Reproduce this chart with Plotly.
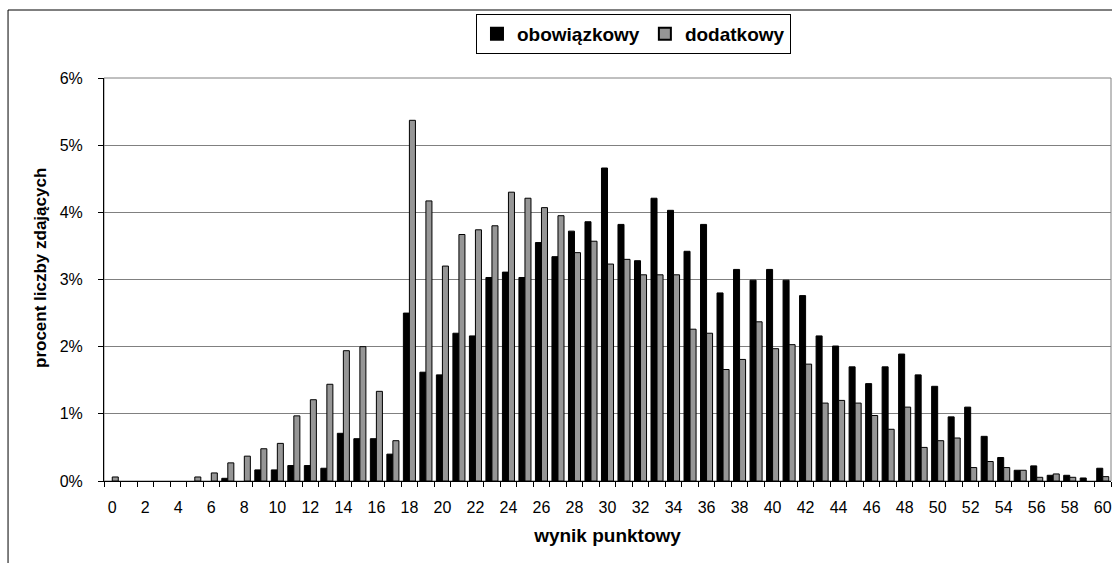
import plotly.graph_objects as go

# Score points 0..60 and share of candidates (%) per score
scores = list(range(0, 61))
obowiazkowy = [
    0, 0, 0, 0, 0, 0, 0, 0.04, 0, 0.165,
    0.165, 0.23, 0.23, 0.19, 0.71, 0.63, 0.63, 0.40, 2.50, 1.62,
    1.58, 2.20, 2.16, 3.03, 3.11, 3.03, 3.55, 3.34, 3.72, 3.86,
    4.66, 3.82, 3.28, 4.21, 4.03, 3.42, 3.82, 2.80, 3.15, 2.99,
    3.15, 2.99, 2.76, 2.16, 2.01, 1.70, 1.45, 1.70, 1.89, 1.58,
    1.41, 0.955, 1.10, 0.665, 0.35, 0.16, 0.225, 0.085, 0.085, 0.045,
    0.19,
]
dodatkowy = [
    0.06, 0, 0, 0, 0, 0.06, 0.12, 0.27, 0.37, 0.48,
    0.56, 0.97, 1.21, 1.44, 1.94, 2.00, 1.335, 0.60, 5.37, 4.17,
    3.20, 3.67, 3.74, 3.80, 4.30, 4.21, 4.07, 3.95, 3.40, 3.57,
    3.23, 3.30, 3.07, 3.07, 3.07, 2.26, 2.20, 1.66, 1.81, 2.37,
    1.97, 2.03, 1.74, 1.16, 1.20, 1.16, 0.975, 0.77, 1.10, 0.50,
    0.60, 0.64, 0.20, 0.29, 0.20, 0.16, 0.055, 0.105, 0.055, 0,
    0.065,
]
x_ticks = list(range(0, 61, 2))
y_ticks = [0, 1, 2, 3, 4, 5, 6]
y_tick_labels = ["0%", "1%", "2%", "3%", "4%", "5%", "6%"]

FONT = "Liberation Sans, Arial, sans-serif"


def no_empty(values):
    # empty scores get no bar at all (avoids a flat outline on the axis)
    return [v if v > 0 else None for v in values]


fig = go.Figure()
fig.add_trace(go.Bar(
    x=scores, y=no_empty(obowiazkowy), name="obowiązkowy",
    marker=dict(color="#000000", line=dict(color="#000000", width=1)),
))
fig.add_trace(go.Bar(
    x=scores, y=no_empty(dodatkowy), name="dodatkowy",
    marker=dict(color="#969696", line=dict(color="#000000", width=1)),
))

# outer chart frame
fig.add_shape(type="rect", xref="paper", yref="paper",
              x0=-0.0953, x1=1.02, y0=-0.25, y1=1.1687,
              line=dict(color="#000000", width=1), layer="below")
# plot area frame
fig.add_shape(type="rect", xref="paper", yref="paper",
              x0=0, x1=1, y0=0, y1=1,
              line=dict(color="#808080", width=1), layer="below")

fig.add_annotation(
    text="<b>procent liczby zdających</b>", textangle=-90,
    xref="paper", yref="paper", x=(40 - 104) / 1007, y=(481 - 268) / 403,
    xanchor="center", yanchor="middle", showarrow=False,
    font=dict(family=FONT, size=17, color="#000000"),
)

fig.update_layout(
    width=1112, height=563,
    margin=dict(l=104, r=1, t=78, b=82),
    paper_bgcolor="#ffffff", plot_bgcolor="#ffffff",
    barmode="group", bargap=0.27, bargroupgap=0,
    font=dict(family=FONT, size=15, color="#000000"),
    showlegend=True,
    legend=dict(
        orientation="h", x=0.5258, y=1.1588, xanchor="center", yanchor="top",
        bordercolor="#000000", borderwidth=1, bgcolor="#ffffff",
        font=dict(family=FONT, size=19, color="#000000", weight="bold"),
        itemsizing="constant", itemwidth=30, tracegroupgap=0,
    ),
    xaxis=dict(
        range=[-0.5, 60.5], tickvals=x_ticks, ticktext=[str(v) for v in x_ticks],
        ticks="", showgrid=False, zeroline=False,
        showline=True, linecolor="#000000", linewidth=1,
        tickfont=dict(family=FONT, size=16, color="#000000"),
        ticklabelstandoff=12,
        minor=dict(tick0=-0.5, dtick=1, ticks="outside", ticklen=5,
                   tickcolor="#000000", tickwidth=1, showgrid=False),
        title=dict(text="<b>wynik punktowy</b>", standoff=13,
                   font=dict(family=FONT, size=19, color="#000000")),
    ),
    yaxis=dict(
        range=[0, 6], tickvals=y_ticks, ticktext=y_tick_labels,
        ticks="outside", ticklen=5, tickcolor="#000000",
        showgrid=True, gridcolor="#808080", gridwidth=1,
        zeroline=False, showline=True, linecolor="#000000", linewidth=1,
        tickfont=dict(family=FONT, size=16, color="#000000"),
        ticklabelstandoff=12,
    ),
)

fig.write_html("out.html")
